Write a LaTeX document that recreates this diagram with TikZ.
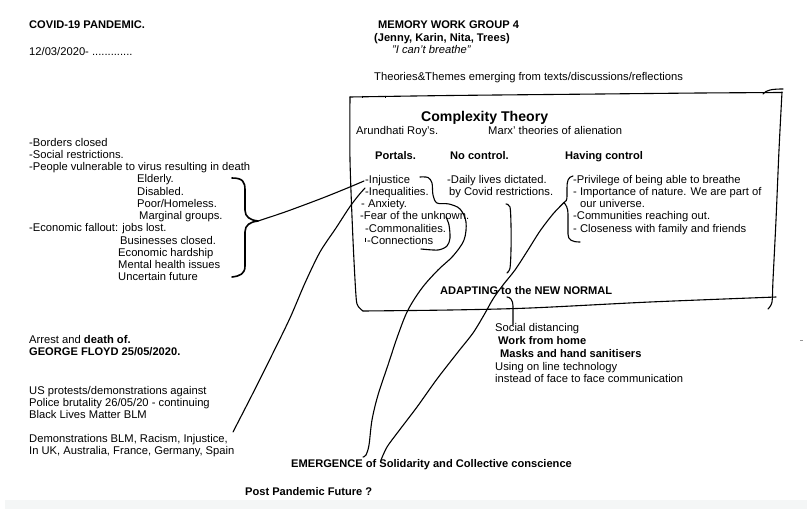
\documentclass[tikz,border=0pt]{standalone}
\usepackage{fontspec}
\setmainfont{Liberation Sans}
\definecolor{strip}{RGB}{244,246,246}
\definecolor{dashgray}{RGB}{150,150,150}
\begin{document}
\begin{tikzpicture}[x=1pt,y=-1pt,
  txt/.style={anchor=base west,inner sep=0pt,font=\fontsize{11.2}{13}\selectfont},
  bold/.style={anchor=base west,inner sep=0pt,font=\fontsize{11.1}{13}\selectfont\bfseries},
  ital/.style={anchor=base west,inner sep=0pt,font=\fontsize{11.2}{13}\selectfont\itshape},
  title/.style={anchor=base west,inner sep=0pt,font=\fontsize{14.1}{16}\selectfont\bfseries},
  ink/.style={line width=1.1pt,line cap=round,line join=round},
  thickink/.style={line width=1.6pt,line cap=round,line join=round}]
\useasboundingbox (0,0) rectangle (807,509);
\fill[strip] (5,500) rectangle (807,509);

% ---------- header ----------
\node[bold] (covid) at (29,28) {COVID-19 PANDEMIC.};
\node[txt] (date) at (29,55) {12/03/2020- .............};
\node[bold] (mwg) at (378,28) {MEMORY WORK GROUP 4};
\node[bold] (names) at (374,41) {(Jenny, Karin, Nita, Trees)};
\node[ital] (quote) at (392,53) {"I can't breathe"};
\node[txt] (themes) at (374,80) {Theories\&Themes emerging from texts/discussions/reflections};

% ---------- left column ----------
\node[txt] (l1) at (29,146) {-Borders closed};
\node[txt] (l2) at (29,158.3) {-Social restrictions.};
\node[txt] (l3) at (29,170.5) {-People vulnerable to virus resulting in death};
\node[txt] (l4) at (137,182.8) {Elderly.};
\node[txt] (l5) at (137,195) {Disabled.};
\node[txt] (l6) at (137,207.3) {Poor/Homeless.};
\node[txt] (l7) at (139,219.5) {Marginal groups.};
\node[txt] (l8) at (29,231.8) {-Economic fallout: jobs lost.};
\node[txt] (l9) at (120,244) {Businesses closed.};
\node[txt] (l10) at (118,256.3) {Economic hardship};
\node[txt] (l11) at (118,268.5) {Mental health issues};
\node[txt] (l12) at (118,280.8) {Uncertain future};

\node[txt] (arrest) at (29,343) {Arrest and \textbf{death of.}};
\node[bold] (floyd) at (29,355) {GEORGE FLOYD 25/05/2020.};
\node[txt] (us1) at (29,394) {US protests/demonstrations against};
\node[txt] (us2) at (29,406) {Police brutality 26/05/20 - continuing};
\node[txt] (us3) at (29,418) {Black Lives Matter BLM};
\node[txt] (demo1) at (29,442) {Demonstrations BLM, Racism, Injustice,};
\node[txt] (demo2) at (29,454) {In UK, Australia, France, Germany, Spain};

% ---------- box contents ----------
\node[title] (cx) at (421,121) {Complexity Theory};
\node[txt] (roy) at (356,134) {Arundhati Roy's.};
\node[txt] (marx) at (488,134) {Marx' theories of alienation};
\node[bold] (portals) at (375,159) {Portals.};
\node[bold] (noctl) at (450,159) {No control.};
\node[bold] (havctl) at (565,159) {Having control};

\node[txt] (p1) at (365,183) {-Injustice};
\node[txt] (p2) at (365,195.5) {-Inequalities.};
\node[txt] (p3) at (361,207.5) {- Anxiety.};
\node[txt] (p4) at (360,219.5) {-Fear of the unknown.};
\node[txt] (p5) at (365,232) {-Commonalities.};
\node[txt] (p6) at (367,244) {-Connections};

\node[txt] (n1) at (447,183) {-Daily lives dictated.};
\node[txt] (n2) at (449,195.5) {by Covid restrictions.};

\node[txt] (h1) at (573,183) {-Privilege of being able to breathe};
\node[txt] (h2) at (573,195.5) {- Importance of nature. We are part of};
\node[txt] (h3) at (580,207.5) {our universe.};
\node[txt] (h4) at (573,219.5) {-Communities reaching out.};
\node[txt] (h5) at (573,232) {- Closeness with family and friends};

\node[bold] (adapt) at (440,294) {ADAPTING to the NEW NORMAL};

% ---------- below box ----------
\node[txt] (a1) at (495,331) {Social distancing};
\node[bold] (a2) at (498,344) {Work from home};
\node[bold] (a3) at (500,357) {Masks and hand sanitisers};
\node[txt] (a4) at (495,370) {Using on line technology};
\node[txt] (a5) at (495,382) {instead of face to face communication};

\node[bold] (emerg) at (291,467) {EMERGENCE of Solidarity and Collective conscience};
\node[bold] (post) at (245,495) {Post Pandemic Future ?};

% ---------- hand-drawn box ----------
\draw[ink] plot[smooth] coordinates {(350,97) (450,95.5) (600,94) (700,93) (782,92.5)};
\draw[ink] (763,94) .. controls (766,90) and (772,89) .. (783,89);
\draw[ink] plot[smooth] coordinates {(782,92) (779,150) (776,220) (773,280) (772,302) (768,309)};
\draw[ink] plot[smooth] coordinates {(363,311) (450,310) (530,308) (650,302) (776,297)};
\draw[ink] plot[smooth] coordinates {(350,97) (350,160) (353,240) (356,296) (358,306) (363,311)};
\draw[line width=0.8pt] (362,95.5) -- (362,97.5);
\draw[line width=0.8pt] (385,95.5) -- (385,97.5);

% ---------- named end points ----------
\coordinate (braceTip) at (258,221);
\coordinate (injEnd) at (364,181);
\coordinate (ineqEnd) at (365,188);
\coordinate (demoEnd) at (233,432);
\coordinate (portTop) at (420,177);
\coordinate (emergB) at (363,457);
\coordinate (havTip) at (564,202.5);
\coordinate (emergC) at (381,460);
\coordinate (covTop) at (506,204);
\coordinate (covEnd) at (507,273);
\coordinate (adTop) at (507,297);
\coordinate (adEnd) at (513,325);

% ---------- brace on the left list ----------
\draw[thickink] (232,178) .. controls (243,178) and (245,182) .. (245,190) -- (245,210)
  .. controls (245,217) and (250,220) .. (braceTip)
  .. controls (250,222) and (245,225) .. (245,232) -- (245,266)
  .. controls (245,274) and (240,276) .. (232,277);

% ---------- connectors ----------
\draw[ink] plot[smooth] coordinates {(braceTip) (285,212) (320,199) (345,189) (injEnd)};
\draw[ink] plot[smooth] coordinates {(ineqEnd) (358,196) (349,208) (336,228) (320,252) (305,283) (290,318) (272,355) (252,395) (demoEnd)};
\draw[ink] plot[smooth,tension=0.55] coordinates {(portTop) (428,177.5) (432,183) (433,195) (437,203) (449,204) (460,209) (466,222) (464,240) (453,256) (438,270) (422,288) (408,310) (398,335) (388,365) (378,395) (372,420) (369,445) (366,455) (emergB)};
\draw[ink] plot[smooth] coordinates {(446,217) (449,225) (450,238) (447,246) (438,250) (421,249)};
\draw[ink] (573,176) .. controls (568,177) and (567,181) .. (567,188) -- (567,196)
  .. controls (567,200) and (566,202) .. (havTip)
  .. controls (566,205) and (568,208) .. (568,214) -- (568,234)
  .. controls (568,240) and (572,242) .. (580,242);
\draw[ink] plot[smooth] coordinates {(havTip) (553,214) (540,231) (528,250) (515,270) (503,285) (493,299) (484,315) (473,333) (458,352) (437,379) (417,407) (398,432) (387,447) (emergC)};
\draw[ink] plot[smooth] coordinates {(covTop) (510,207) (511,225) (511,250) (510,268) (covEnd)};
\draw[ink] (adTop) .. controls (510,297) and (513,300) .. (513,306) -- (adEnd);
\draw[line width=0.7pt] (365,237.5) -- (365,242);
\draw[dashgray,line width=0.8pt] (800,340) -- (803,340);
\end{tikzpicture}
\end{document}
